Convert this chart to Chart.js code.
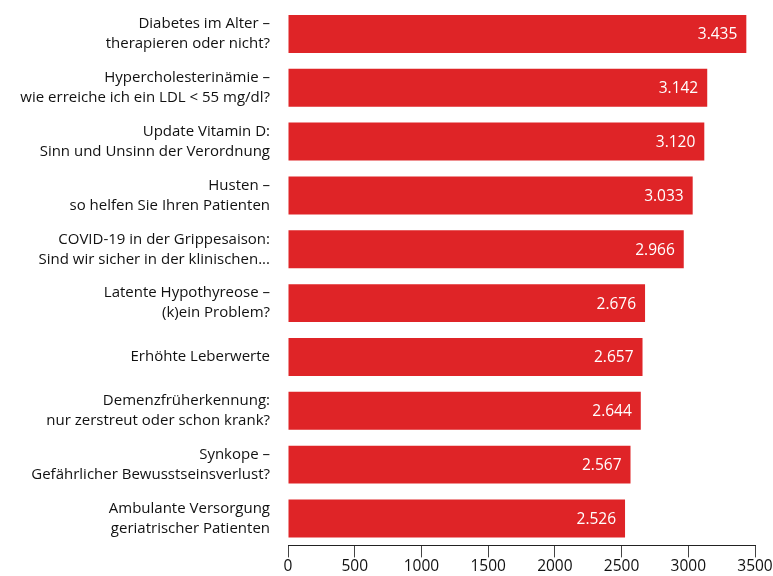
<!DOCTYPE html>
<html>
<head>
<meta charset="utf-8">
<script src="https://cdn.jsdelivr.net/npm/chart.js@4/dist/chart.umd.min.js"></script>
<style>
  html, body { margin: 0; padding: 0; background: #fff; overflow: hidden; }
  canvas { display: block; }
</style>
</head>
<body>
<canvas id="chart" width="773" height="576"></canvas>
<script>
// Vortragsthemen und Aufrufe
const topics = [
    ['Diabetes im Alter –', 'therapieren oder nicht?'],
    ['Hypercholesterinämie –', 'wie erreiche ich ein LDL < 55 mg/dl?'],
    ['Update Vitamin D:', 'Sinn und Unsinn der Verordnung'],
    ['Husten –', 'so helfen Sie Ihren Patienten'],
    ['COVID-19 in der Grippesaison:', 'Sind wir sicher in der klinischen...'],
    ['Latente Hypothyreose –', '(k)ein Problem?'],
    'Erhöhte Leberwerte',
    ['Demenzfrüherkennung:', 'nur zerstreut oder schon krank?'],
    ['Synkope –', 'Gefährlicher Bewusstseinsverlust?'],
    ['Ambulante Versorgung', 'geriatrischer Patienten']
];
const views = [3435, 3142, 3120, 3033, 2966, 2676, 2657, 2644, 2567, 2526];
const xTicks = [0, 500, 1000, 1500, 2000, 2500, 3000, 3500];

const RED = '#df2427';
const FONT = "'Open Sans', 'Noto Sans', sans-serif";

function fmtDe(v) {
    return String(v).replace(/\B(?=(\d{3})+(?!\d))/g, '.');
}

// white value label at the end of each bar
const valueLabels = {
    id: 'valueLabels',
    afterDatasetsDraw(chart) {
        const ctx = chart.ctx;
        const meta = chart.getDatasetMeta(0);
        ctx.save();
        ctx.fillStyle = '#fff';
        ctx.font = `15.5px ${FONT}`;
        ctx.textAlign = 'right';
        ctx.textBaseline = 'middle';
        meta.data.forEach((bar, i) => {
            ctx.fillText(fmtDe(views[i]), bar.x - 9, bar.y + 1);
        });
        ctx.restore();
    }
};

function noPad(scale) {
    scale.paddingTop = 0;
    scale.paddingBottom = 0;
    scale.paddingLeft = 0;
    scale.paddingRight = 0;
}

new Chart(document.getElementById('chart'), {
    type: 'bar',
    data: {
        labels: topics,
        datasets: [{
            data: views,
            backgroundColor: RED,
            borderWidth: 0,
            barPercentage: 0.705,
            categoryPercentage: 1
        }]
    },
    options: {
        indexAxis: 'y',
        responsive: false,
        animation: false,
        layout: { padding: { top: 7, right: 18, left: 0, bottom: 0 } },
        plugins: {
            legend: { display: false },
            tooltip: { enabled: false }
        },
        scales: {
            x: {
                min: 0,
                max: 3500,
                afterBuildTicks: scale => { scale.ticks = xTicks.map(v => ({ value: v })); },
                afterFit: noPad,
                border: { display: true, color: '#222', width: 1 },
                grid: { display: true, drawOnChartArea: false, drawTicks: true, tickLength: 12, color: '#444' },
                ticks: {
                    color: '#111',
                    font: { family: FONT, size: 15.5 },
                    padding: 0,
                    maxRotation: 0,
                    callback: v => String(v)
                }
            },
            y: {
                border: { display: false },
                grid: { display: false, drawTicks: false },
                afterFit: scale => { noPad(scale); scale.width = 288; },
                ticks: {
                    color: '#111',
                    font: { family: FONT, size: 15, lineHeight: 1.33 },
                    padding: 18
                }
            }
        }
    },
    plugins: [valueLabels]
});
</script>
</body>
</html>
